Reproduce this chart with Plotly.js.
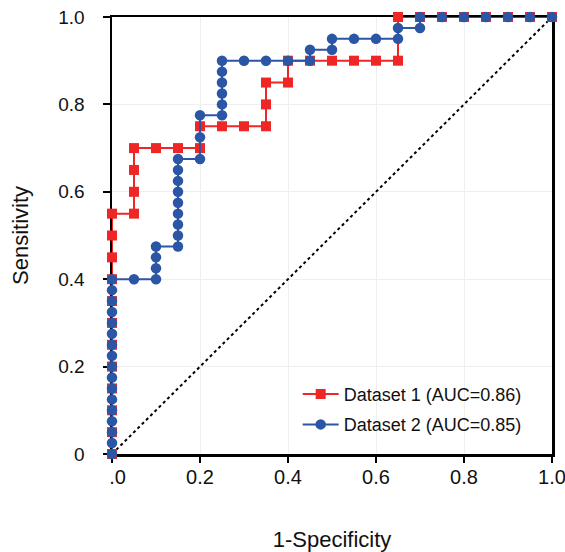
<!DOCTYPE html>
<html>
<head>
<meta charset="utf-8">
<script src="https://cdn.plot.ly/plotly-3.0.1.min.js"></script>
<style>html,body{margin:0;padding:0;background:#fff;}#chart{width:565px;height:552px;}</style>
</head>
<body>
<div id="chart"></div>
<script>
// Dataset 1 ROC points
const fpr1 = [0,0,0,0,0,0,0,0,0,0,0,0, 0.05,0.05,0.05,0.05, 0.1,0.15,0.2, 0.2, 0.25,0.3,0.35, 0.35,0.35, 0.4, 0.4, 0.45,0.5,0.55,0.6,0.65, 0.65, 0.7,0.75,0.8,0.85,0.9,0.95,1.0];
const tpr1 = [0,0.05,0.1,0.15,0.2,0.25,0.3,0.35,0.4,0.45,0.5,0.55, 0.55,0.6,0.65,0.7, 0.7,0.7,0.7, 0.75, 0.75,0.75,0.75, 0.8,0.85, 0.85, 0.9, 0.9,0.9,0.9,0.9,0.9, 1.0, 1,1,1,1,1,1,1];
// Dataset 2 ROC points
const fpr2 = [0,0,0,0,0,0,0,0,0,0,0,0,0,0,0,0,0, 0.05,0.1,0.1,0.1,0.1, 0.15,0.15,0.15,0.15,0.15,0.15,0.15,0.15,0.15, 0.2,0.2,0.2, 0.25,0.25,0.25,0.25,0.25,0.25, 0.3,0.35,0.4,0.45, 0.45,0.5, 0.5,0.55,0.6,0.65, 0.65,0.7, 0.7,0.75,0.8,0.85,0.9,0.95,1.0];
const tpr2 = [0,0.025,0.05,0.075,0.1,0.125,0.15,0.175,0.2,0.225,0.25,0.275,0.3,0.325,0.35,0.375,0.4, 0.4,0.4,0.425,0.45,0.475, 0.475,0.5,0.525,0.55,0.575,0.6,0.625,0.65,0.675, 0.675,0.725,0.775, 0.775,0.8,0.825,0.85,0.875,0.9, 0.9,0.9,0.9,0.9, 0.925,0.925, 0.95,0.95,0.95,0.95, 0.975,0.975, 1,1,1,1,1,1,1];
const names = ["Dataset 1 (AUC=0.86)", "Dataset 2 (AUC=0.85)"];
const refX = [0, 1];
const refY = [0, 1];
const xTickVals = [0,0.2,0.4,0.6,0.8,1.0];
const xTickText = ["\u2007.0","0.2","0.4","0.6","0.8","1.0"];
const yTickVals = [0,0.2,0.4,0.6,0.8,1.0];
const yTickText = ["0","0.2","0.4","0.6","0.8","1.0"];

const red = '#EE2626', blue = '#2B56A6';
const font = 'Liberation Sans, Arial, sans-serif';

const traces = [
  {x: refX, y: refY, mode: 'lines', line: {color: '#000', width: 2, dash: 'dot'}, showlegend: false, hoverinfo: 'skip', cliponaxis: false},
  {x: fpr1, y: tpr1, name: names[0], mode: 'lines+markers', legendgroup: 'a',
   line: {color: red, width: 2}, marker: {symbol: 'square', size: 10, color: red}, cliponaxis: false},
  {x: fpr2, y: tpr2, name: names[1], mode: 'lines+markers', legendgroup: 'b',
   line: {color: blue, width: 2}, marker: {symbol: 'circle', size: 10.5, color: blue}, cliponaxis: false}
];

const layout = {
  width: 565, height: 552,
  margin: {l: 112, r: 13, t: 17, b: 98},
  paper_bgcolor: '#fff', plot_bgcolor: '#fff',
  font: {family: font, color: '#111'},
  showlegend: true,
  legend: {x: 0.422, y: 0.179, xanchor: 'left', yanchor: 'top', bgcolor: 'rgba(0,0,0,0)', itemwidth: 36,
           font: {size: 18, family: font, color: '#111'}, tracegroupgap: 4, traceorder: 'grouped'},
  xaxis: {range: [0, 1], tickmode: 'array', tickvals: xTickVals, ticktext: xTickText,
          showline: true, linecolor: '#000', linewidth: 2.5, mirror: true,
          ticks: 'outside', ticklen: 6, tickwidth: 2, tickcolor: '#000', ticklabeloverflow: 'allow',
          showgrid: true, gridcolor: '#efefef', gridwidth: 1, zeroline: false,
          layer: 'below traces', tickfont: {size: 20, family: font, color: '#111'}, ticklabelstandoff: -3,
          title: {text: '1-Specificity', font: {size: 22, family: font, color: '#111'}, standoff: 45}},
  yaxis: {range: [0, 1], tickmode: 'array', tickvals: yTickVals, ticktext: yTickText,
          showline: true, linecolor: '#000', linewidth: 2.5, mirror: true,
          ticks: 'outside', ticklen: 7, tickwidth: 2, tickcolor: '#000',
          showgrid: true, gridcolor: '#efefef', gridwidth: 1, zeroline: false,
          layer: 'below traces', tickfont: {size: 19, family: font, color: '#111'}, ticklabelstandoff: 14,
          title: {text: 'Sensitivity', font: {size: 22, family: font, color: '#111'}, standoff: 24}}
};

Plotly.newPlot('chart', traces, layout, {displayModeBar: false, staticPlot: true});
</script>
</body>
</html>
